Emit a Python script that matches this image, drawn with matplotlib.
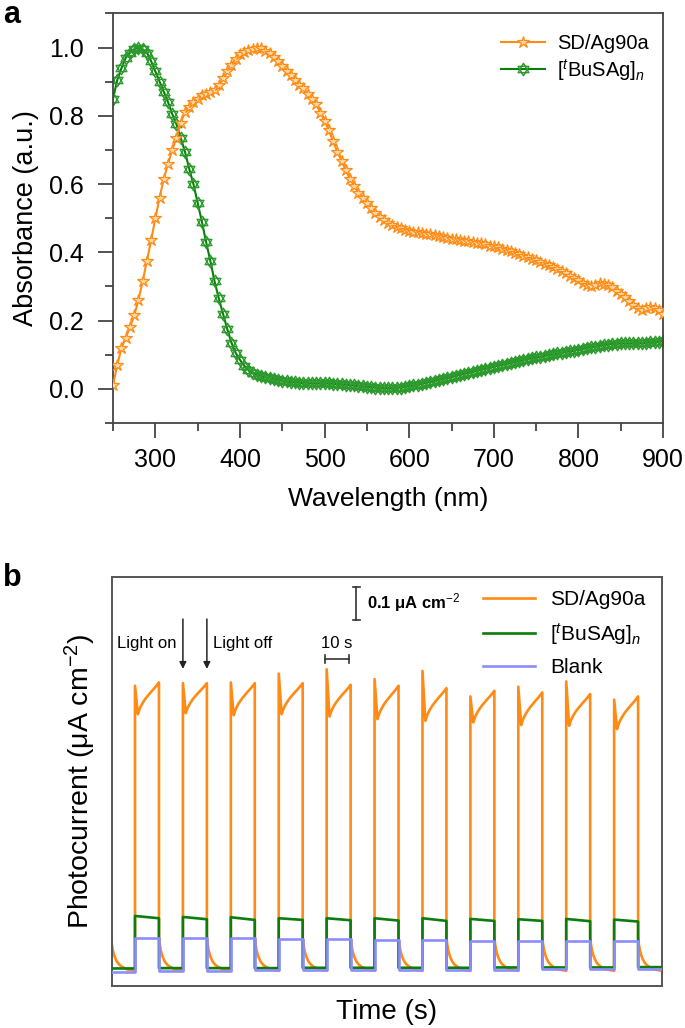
import numpy as np
import matplotlib
matplotlib.use("Agg")
import matplotlib.pyplot as plt
from matplotlib.path import Path
from matplotlib.ticker import MultipleLocator

plt.rcParams['font.family'] = ['Liberation Sans', 'DejaVu Sans']
plt.rcParams['mathtext.fontset'] = 'custom'
plt.rcParams['mathtext.rm'] = 'Liberation Sans'
plt.rcParams['mathtext.it'] = 'Liberation Sans:italic'
plt.rcParams['mathtext.bf'] = 'Liberation Sans:bold'

# ---------------- Panel a data (absorbance) ----------------
wavelength = np.arange(250, 901, 5)
sd_abs = [
    0.01, 0.07, 0.12, 0.15, 0.18, 0.215, 0.26, 0.315, 0.375, 0.435,
    0.50, 0.56, 0.615, 0.66, 0.70, 0.735, 0.78, 0.81, 0.825, 0.84,
    0.85, 0.86, 0.865, 0.87, 0.875, 0.89, 0.91, 0.93, 0.95, 0.965,
    0.98, 0.988, 0.994, 0.997, 1.0, 0.998, 0.99, 0.983, 0.973, 0.96,
    0.947, 0.932, 0.918, 0.905, 0.89, 0.88, 0.865, 0.85, 0.835, 0.808,
    0.785, 0.758, 0.725, 0.695, 0.668, 0.64, 0.615, 0.595, 0.575, 0.56,
    0.545, 0.53, 0.515, 0.503, 0.495, 0.487, 0.48, 0.474, 0.47, 0.466,
    0.463, 0.461, 0.459, 0.457, 0.455, 0.453, 0.451, 0.448, 0.446, 0.443,
    0.44, 0.438, 0.436, 0.434, 0.432, 0.43, 0.428, 0.426, 0.423, 0.42,
    0.418, 0.415, 0.411, 0.407, 0.403, 0.399, 0.395, 0.39, 0.385, 0.38,
    0.377, 0.372, 0.367, 0.362, 0.356, 0.35, 0.344, 0.338, 0.331, 0.325,
    0.318, 0.31, 0.305, 0.30, 0.305, 0.31, 0.308, 0.303, 0.297, 0.288,
    0.279, 0.268, 0.257, 0.246, 0.238, 0.232, 0.238, 0.24, 0.236, 0.23,
    0.22,
]
busag_abs = [
    0.85, 0.905, 0.94, 0.97, 0.985, 0.995, 1.0, 0.995, 0.985, 0.96,
    0.93, 0.90, 0.87, 0.84, 0.805, 0.775, 0.735, 0.695, 0.645, 0.60,
    0.545, 0.49, 0.43, 0.375, 0.315, 0.265, 0.22, 0.175, 0.135, 0.105,
    0.085, 0.068, 0.056, 0.047, 0.042, 0.037, 0.034, 0.031, 0.029, 0.026,
    0.024, 0.022, 0.02, 0.019, 0.018, 0.017, 0.017, 0.016, 0.016, 0.016,
    0.016, 0.016, 0.015, 0.014, 0.013, 0.012, 0.011, 0.01, 0.008, 0.007,
    0.006, 0.005, 0.004, 0.003, 0.002, 0.002, 0.002, 0.003, 0.004, 0.006,
    0.008, 0.01, 0.012, 0.015, 0.018, 0.02, 0.023, 0.026, 0.029, 0.032,
    0.035, 0.038, 0.041, 0.044, 0.047, 0.05, 0.053, 0.056, 0.059, 0.062,
    0.065, 0.068, 0.07, 0.073, 0.076, 0.079, 0.081, 0.084, 0.087, 0.09,
    0.092, 0.094, 0.097, 0.099, 0.101, 0.104, 0.106, 0.108, 0.11, 0.112,
    0.115, 0.117, 0.12, 0.122, 0.124, 0.126, 0.128, 0.13, 0.132, 0.132,
    0.133, 0.133, 0.133, 0.133, 0.133, 0.134, 0.135, 0.136, 0.137, 0.138,
    0.14,
]

# ---------------- Panel b data (photocurrent, uA cm^-2) ----------------
t_on = [10, 30, 50, 70, 90, 110, 130, 150, 170, 190, 210]
on_duration = 10
t_end = 230
sd_peak = [0.861, 0.869, 0.871, 0.898, 0.911, 0.881, 0.906, 0.829, 0.858, 0.874, 0.819]
sd_dip = [0.775, 0.778, 0.772, 0.775, 0.768, 0.760, 0.755, 0.750, 0.742, 0.740, 0.730]
sd_end = [0.871, 0.869, 0.869, 0.869, 0.864, 0.861, 0.854, 0.846, 0.841, 0.836, 0.829]
rise_offsets = [1.2, 2, 3, 4, 5, 6, 7, 8, 9, 10]
rise_frac = [0.0, 0.18, 0.33, 0.45, 0.55, 0.64, 0.73, 0.81, 0.9, 1.0]
decay_offsets = [0, 0.3, 0.7, 1.1, 1.7, 2.5, 3.5, 4.6, 6.7, 10]
sd_decay = [0.10, 0.08, 0.062, 0.05, 0.037, 0.025, 0.016, 0.01, 0.002, -0.002]
g_start = [0.164, 0.161, 0.160, 0.157, 0.157, 0.157, 0.157, 0.155, 0.154, 0.155, 0.153]
g_end = [0.157, 0.154, 0.152, 0.152, 0.151, 0.150, 0.149, 0.149, 0.149, 0.148, 0.147]
g_off = [0.005, 0.006, 0.006, 0.006, 0.007, 0.007, 0.007, 0.007, 0.008, 0.008, 0.008, 0.009]
b_on = [0.098, 0.098, 0.096, 0.094, 0.093, 0.091, 0.091, 0.089, 0.089, 0.088, 0.088]
b_off = [-0.005, -0.003, -0.002, -0.001, 0.0, 0.0, 0.001, 0.001, 0.001, 0.002, 0.002, 0.002]

ORANGE = '#ff8a14'
GREEN = '#0b7d0b'
BLUE = '#8c8cff'
SPINE = '#444444'

fig = plt.figure(figsize=(6.85, 10.28), dpi=100)

# ======================= Panel a =======================
axa = fig.add_axes([0.165, 0.5885, 0.803, 0.3985])

# hexagram (star of David) marker
up = [(0, 1), (-0.866, -0.5), (0.866, -0.5), (0, 1)]
dn = [(0, -1), (-0.866, 0.5), (0.866, 0.5), (0, -1)]
hex_path = Path(up + dn, [Path.MOVETO, Path.LINETO, Path.LINETO, Path.CLOSEPOLY] * 2)

axa.plot(wavelength, sd_abs, color=ORANGE, lw=1.5, marker='*', ms=9,
         mfc='#ffd9a6', mec=ORANGE, mew=0.9, label='SD/Ag90a', zorder=3)
axa.plot(wavelength, busag_abs, color=GREEN, lw=1.5, marker=hex_path, ms=9,
         mfc='none', mec='#2c9a2c', mew=1.0, label=r'[$^{t}$BuSAg]$_{n}$', zorder=2)

axa.set_xlim(250, 900)
axa.set_ylim(-0.1, 1.1)
axa.xaxis.set_minor_locator(MultipleLocator(50))
axa.yaxis.set_minor_locator(MultipleLocator(0.1))
axa.set_xticks([300, 400, 500, 600, 700, 800, 900])
axa.set_yticks([0.0, 0.2, 0.4, 0.6, 0.8, 1.0])
axa.set_yticklabels(['0.0', '0.2', '0.4', '0.6', '0.8', '1.0'])
axa.tick_params(which='major', direction='out', length=11, width=1.3, color=SPINE,
                labelsize=18, pad=7)
axa.tick_params(axis='y', which='major', pad=10)
axa.tick_params(which='minor', direction='out', length=6, width=1.3, color=SPINE)
for s in axa.spines.values():
    s.set_color(SPINE)
    s.set_linewidth(1.3)
axa.set_xlabel('Wavelength (nm)', fontsize=19)
axa.set_ylabel('Absorbance (a.u.)', fontsize=19.5)
axa.xaxis.set_label_coords(0.5, -0.155)
axa.yaxis.set_label_coords(-0.135, 0.5)
axa.legend(loc='upper right', frameon=False, fontsize=14.5, handlelength=2.2,
           handletextpad=0.6, labelspacing=0.2, borderaxespad=0.3,
           bbox_to_anchor=(1.0, 0.985))
fig.text(0.004, 0.985, 'a', fontsize=22, fontweight='bold', va='center', ha='left')

# ======================= Panel b =======================
axb = fig.add_axes([0.1635, 0.0409, 0.803, 0.398])

# orange trace
ts = [0 + d for d in decay_offsets[:-1]]
ys = list(sd_decay[:-1])
for k, t0 in enumerate(t_on):
    ts.append(t0); ys.append(sd_decay[-1])
    ts.append(t0); ys.append(sd_peak[k])
    for off, fr in zip(rise_offsets, rise_frac):
        ts.append(t0 + off)
        ys.append(sd_dip[k] + fr * (sd_end[k] - sd_dip[k]))
    toff = t0 + on_duration
    for d, v in zip(decay_offsets, sd_decay):
        if toff + d <= t_end:
            ts.append(toff + d); ys.append(v)

# green and blue traces (square waves)
gt, gy, bt, by = [0.0], [g_off[0]], [0.0], [b_off[0]]
for k, t0 in enumerate(t_on):
    toff = t0 + on_duration
    gt.extend([t0, t0, toff, toff])
    gy.extend([g_off[k], g_start[k], g_end[k], g_off[k + 1]])
    bt.extend([t0, t0, toff, toff])
    by.extend([b_off[k], b_on[k], b_on[k], b_off[k + 1]])
gt.append(t_end); gy.append(g_off[-1])
bt.append(t_end); by.append(b_off[-1])

axb.plot(ts, ys, color=ORANGE, lw=1.9, label='SD/Ag90a', zorder=2)
axb.plot(gt, gy, color=GREEN, lw=1.9, label=r'[$^{t}$BuSAg]$_{n}$', zorder=3)
axb.plot(bt, by, color=BLUE, lw=1.9, label='Blank', zorder=4)

axb.set_xlim(0.4, 230)
axb.set_ylim(-0.048, 1.191)
axb.set_xticks([])
axb.set_yticks([])
for s in axb.spines.values():
    s.set_color('#555555')
    s.set_linewidth(1.4)
axb.set_xlabel('Time (s)', fontsize=20)
axb.set_ylabel(r'Photocurrent (μA cm$^{-2}$)', fontsize=20.5)
axb.xaxis.set_label_coords(0.5, -0.033)
axb.yaxis.set_label_coords(-0.025, 0.5)
axb.legend(loc='upper right', frameon=False, fontsize=15, handlelength=2.5,
           handletextpad=0.75, labelspacing=0.55, borderaxespad=0.25,
           bbox_to_anchor=(0.995, 1.0))

# scale bars
sb_x, sb_y0, sb_y1 = 102.3, 1.061, 1.161
axb.plot([sb_x, sb_x], [sb_y0, sb_y1], color='#333333', lw=1.2)
axb.plot([sb_x - 1.5, sb_x + 1.5], [sb_y0, sb_y0], color='#333333', lw=1.2)
axb.plot([sb_x - 1.5, sb_x + 1.5], [sb_y1, sb_y1], color='#333333', lw=1.2)
axb.text(sb_x + 4.5, 1.112, r'0.1 μA cm$^{-2}$', fontsize=12, fontweight='bold',
         va='center', ha='left')

ts_x0, ts_x1, ts_y = 89.3, 99.3, 0.942
axb.plot([ts_x0, ts_x1], [ts_y, ts_y], color='#333333', lw=1.2)
axb.plot([ts_x0, ts_x0], [ts_y - 0.012, ts_y + 0.012], color='#333333', lw=1.2)
axb.plot([ts_x1, ts_x1], [ts_y - 0.012, ts_y + 0.012], color='#333333', lw=1.2)
axb.text((ts_x0 + ts_x1) / 2, 0.99, '10 s', fontsize=12, va='center', ha='center')

# light on/off arrows
for xa in (t_on[1], t_on[1] + on_duration):
    axb.annotate('', xy=(xa, 0.912), xytext=(xa, 1.063),
                 arrowprops=dict(arrowstyle='-|>', color='#222222', lw=1.1,
                                 mutation_scale=10, shrinkA=0, shrinkB=0))
axb.text(t_on[1] - 2.6, 0.99, 'Light on', fontsize=12, va='center', ha='right')
axb.text(t_on[1] + on_duration + 2.4, 0.99, 'Light off', fontsize=12, va='center', ha='left')

fig.text(0.004, 0.438, 'b', fontsize=22, fontweight='bold', va='center', ha='left')

fig.savefig('out.png', dpi=100)
